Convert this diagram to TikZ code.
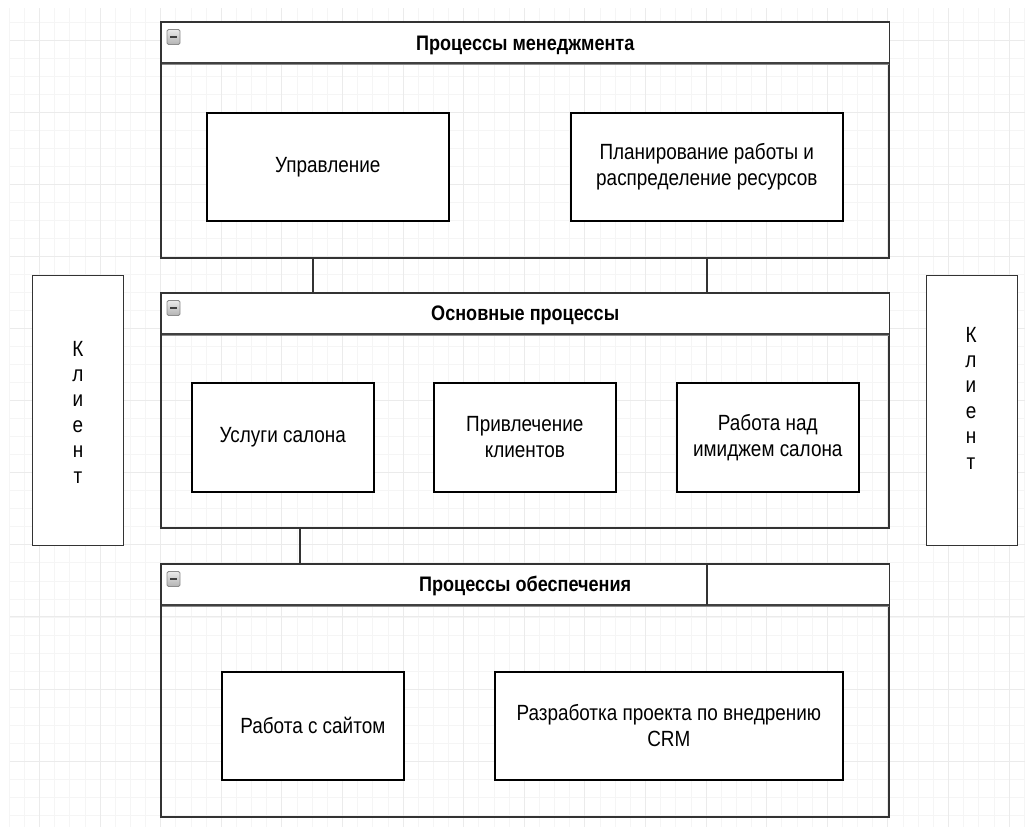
\documentclass[tikz,border=0pt]{standalone}
\usepackage{fontspec}
\setmainfont{Liberation Sans}[FakeStretch=0.86]
\begin{document}
\begin{tikzpicture}[x=1pt,y=-1pt,
  gridminor/.style={draw=black!4, line width=0.8pt},
  gridmajor/.style={draw=black!8, line width=1pt},
  cont/.style={draw=black!80, line width=1.4pt, rectangle, inner sep=0pt, anchor=north west},
  headline/.style={draw=black!75, line width=1.3pt},
  headshadow/.style={draw=black!45, line width=1.2pt},
  title/.style={font=\fontsize{21}{24}\selectfont\bfseries, inner sep=0pt},
  box/.style={draw=black, fill=white, line width=1.6pt, rectangle, inner sep=2pt, anchor=north west,
    align=center, font=\fontsize{22}{26}\selectfont},
  client/.style={draw=black!80, fill=white, line width=1.4pt, rectangle, inner sep=0pt, anchor=north west},
  clienttext/.style={font=\fontsize{22}{25.4}\selectfont, align=center, inner sep=0pt},
  link/.style={draw=black!80, line width=1.4pt},
  minusicon/.style={draw=black!45, line width=0.8pt, rounded corners=1.5pt,
    top color=black!8, bottom color=black!30, minimum width=13pt, minimum height=15pt, inner sep=0pt,
    path picture={\draw[black!75, line width=1.8pt]
      ([xshift=-3.5pt]path picture bounding box.center) -- ([xshift=3.5pt]path picture bounding box.center);}}
]
\useasboundingbox (0,0) rectangle (1025,827);
\fill[white] (0,0) rectangle (1025,827);
% grid
\foreach \i in {0,...,67} \draw[gridminor] ({9.15+15.15*\i},8) -- ({9.15+15.15*\i},827);
\foreach \i in {0,...,44} \draw[gridminor] (10,{21.97+18.03*\i}) -- (1025,{21.97+18.03*\i});
\foreach \i in {0,...,16} \draw[gridmajor] ({39.45+60.6*\i},8) -- ({39.45+60.6*\i},827);
\foreach \i in {0,...,11} \draw[gridmajor] (10,{40+72.12*\i}) -- (1025,{40+72.12*\i});

% ---------- containers ----------
\node[cont, minimum width=727pt, minimum height=235pt] (mgmt) at (161,22) {};
\node[cont, minimum width=727pt, minimum height=234pt] (core) at (161,293) {};
\node[cont, minimum width=727pt, minimum height=252pt] (supp) at (161,564) {};

% headers
\foreach \c in {mgmt,core,supp}{
  \fill[white] (\c.north west) rectangle ([yshift=-41pt]\c.north east);
  \draw[headshadow] ([yshift=-42.5pt]\c.north west) -- ([yshift=-42.5pt]\c.north east);
  \draw[headline] ([yshift=-41pt]\c.north west) -- ([yshift=-41pt]\c.north east);
  \draw[black!80, line width=1.4pt] (\c.south west) rectangle (\c.north east);
  \node[minusicon] (\c-icon) at ([xshift=12.5pt,yshift=-15pt]\c.north west) {};
}
\node[title] (mgmt-title) at ([yshift=-23pt]mgmt.north) {Процессы менеджмента};
\node[title] (core-title) at ([yshift=-22pt]core.north) {Основные процессы};
\node[title] (supp-title) at ([yshift=-22pt]supp.north) {Процессы обеспечения};

% ---------- boxes ----------
\node[box, minimum width=242pt, minimum height=108pt] (upr) at (206,112) {Управление};
\node[box, minimum width=272pt, minimum height=108pt] (plan) at (570,112) {Планирование работы и\\распределение ресурсов};

\node[box, minimum width=182pt, minimum height=109pt] (usl) at (191,382) {Услуги салона};
\node[box, minimum width=182pt, minimum height=109pt] (priv) at (433,382) {Привлечение\\клиентов};
\node[box, minimum width=182pt, minimum height=109pt] (imid) at (676,382) {Работа над\\имиджем салона};

\node[box, minimum width=182pt, minimum height=108pt] (site) at (221,671) {Работа с сайтом};
\node[box, minimum width=348pt, minimum height=108pt] (crm) at (494,671) {Разработка проекта по внедрению\\CRM};

% ---------- clients ----------
\node[client, minimum width=91pt, minimum height=270pt] (cl) at (32,275) {};
\node[clienttext] (cl-text) at (78,412) {К\\л\\и\\е\\н\\т};
\node[client, minimum width=91pt, minimum height=270pt] (cr) at (926,275) {};
\node[clienttext] (cr-text) at (971,398) {К\\л\\и\\е\\н\\т};

% ---------- connectors ----------
\coordinate (x1) at (313,0);
\coordinate (x2) at (707,0);
\coordinate (x3) at (300,0);
\draw[link] (x1 |- mgmt.south) -- (x1 |- core.north);
\draw[link] (x2 |- mgmt.south) -- (x2 |- core.north);
\draw[link] (x3 |- core.south) -- (x3 |- supp.north);
\draw[link] (x2 |- supp.north) -- ([yshift=-41pt]x2 |- supp.north);
\end{tikzpicture}
\end{document}
